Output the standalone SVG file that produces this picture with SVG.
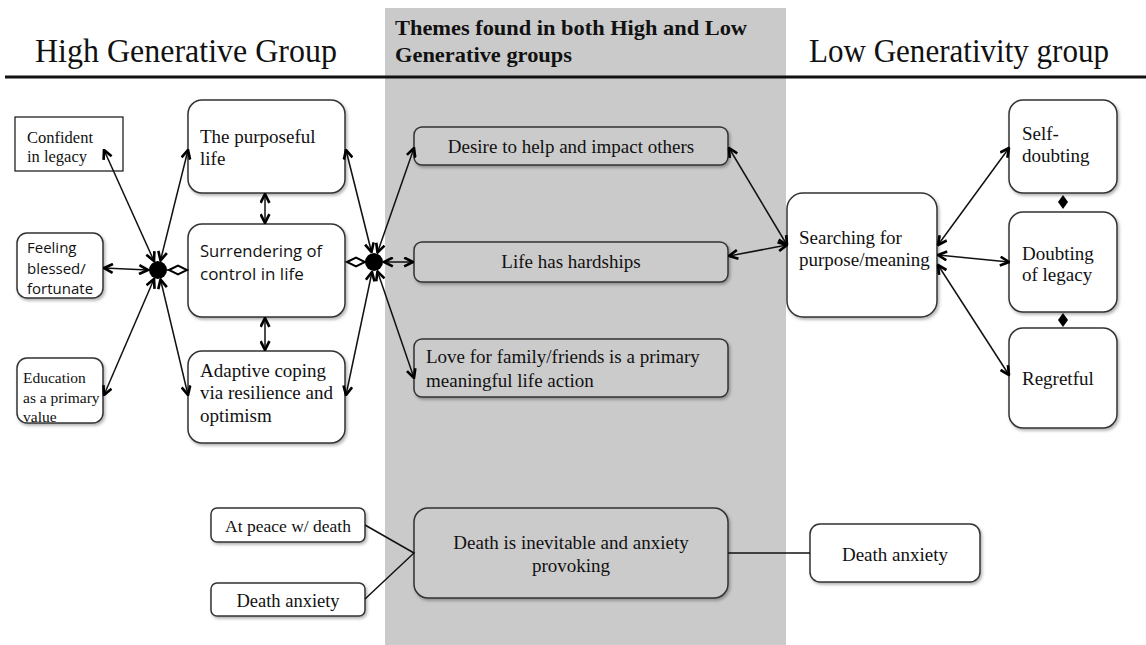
<svg xmlns="http://www.w3.org/2000/svg" width="1146" height="645" viewBox="0 0 1146 645">
<style>
.box{fill:#fff;stroke:#333;stroke-width:1.5;filter:url(#sh)}
.gbox{fill:#cbcbcb;stroke:#333;stroke-width:1.5;filter:url(#sh)}
.sq{fill:#fff;stroke:#222;stroke-width:1.3}
.t{font-family:"Liberation Serif","Times New Roman",serif;font-size:19px;fill:#111}
.ts{font-family:"Open Sans","Liberation Sans",sans-serif;font-size:17px;fill:#111}
.c{text-anchor:middle}
.ln{stroke:#111;stroke-width:1.5;fill:none}
.ar{stroke:#111;stroke-width:1.5;fill:none;marker-start:url(#arr);marker-end:url(#arr)}
.title{font-family:"Liberation Serif","Times New Roman",serif;font-size:34px;fill:#111}
.band{font-family:"Liberation Serif","Times New Roman",serif;font-size:22px;font-weight:bold;fill:#111}
</style>
<defs>
<filter id="sh" x="-10%" y="-10%" width="130%" height="130%">
<feDropShadow dx="1.5" dy="2" stdDeviation="1.5" flood-color="#000" flood-opacity="0.3"/>
</filter>
<marker id="arr" viewBox="0 0 10 10" refX="9" refY="5" markerWidth="11" markerHeight="11" markerUnits="userSpaceOnUse" orient="auto-start-reverse">
<path d="M1,1 L9,5 L1,9" fill="none" stroke="#000" stroke-width="2.4"/>
</marker>
</defs>
<rect x="0" y="0" width="1146" height="645" fill="#fff"/>
<rect id="band" x="385" y="8" width="401" height="637" fill="#cacaca"/>
<g id="headers">
<text class="title" x="35" y="62" textLength="302" lengthAdjust="spacingAndGlyphs">High Generative Group</text>
<text class="title" x="809" y="62" textLength="300" lengthAdjust="spacingAndGlyphs">Low Generativity group</text>
<text class="band" x="395" y="35" textLength="352" lengthAdjust="spacingAndGlyphs">Themes found in both High and Low</text>
<text class="band" x="395" y="62" textLength="177" lengthAdjust="spacingAndGlyphs">Generative groups</text>
<line x1="5" y1="77" x2="1146" y2="77" stroke="#111" stroke-width="3"/>
</g>

<g id="n-confident"><rect class="sq" x="15" y="117" width="108" height="54"/>
<text class="t" style="font-size:16.5px" x="27" y="143">Confident</text><text class="t" style="font-size:16.5px" x="27" y="162">in legacy</text></g>
<g id="n-feeling"><rect class="box" x="17" y="233" width="86" height="65" rx="10"/>
<text class="ts" style="font-size:15px" x="27" y="253">Feeling</text><text class="ts" style="font-size:15px" x="27" y="274">blessed/</text><text class="ts" style="font-size:15px" x="27" y="294">fortunate</text></g>
<g id="n-education"><rect class="box" x="17" y="358" width="86" height="65" rx="10"/>
<text class="t" style="font-size:15.5px" x="23" y="383">Education</text><text class="t" style="font-size:15.5px" x="23" y="403">as a primary</text><text class="t" style="font-size:15.5px" x="23" y="422">value</text></g>
<g id="n-purposeful"><rect class="box" x="188" y="100" width="157" height="93" rx="14"/>
<text class="t" x="200" y="143">The purposeful</text><text class="t" x="200" y="165">life</text></g>
<g id="n-surrender"><rect class="box" x="188" y="224" width="157" height="93" rx="14"/>
<text class="ts" x="200" y="257" textLength="122" lengthAdjust="spacingAndGlyphs">Surrendering of</text><text class="ts" x="200" y="280">control in life</text></g>
<g id="n-adaptive"><rect class="box" x="188" y="351" width="157" height="92" rx="14"/>
<text class="t" x="200" y="377">Adaptive coping</text><text class="t" x="200" y="399">via resilience and</text><text class="t" x="200" y="422">optimism</text></g>

<g id="n-desire"><rect class="gbox" x="414" y="127" width="314" height="38" rx="8"/>
<text class="t c" x="571" y="153">Desire to help and impact others</text></g>
<g id="n-hardships"><rect class="gbox" x="414" y="242" width="314" height="40" rx="8"/>
<text class="t c" x="571" y="268">Life has hardships</text></g>
<g id="n-love"><rect class="gbox" x="414" y="339" width="314" height="58" rx="8"/>
<text class="t" x="426" y="363">Love for family/friends is a primary</text><text class="t" x="426" y="387">meaningful life action</text></g>

<g id="n-searching"><rect class="box" x="787" y="193" width="150" height="124" rx="16"/>
<text class="t" x="799" y="244">Searching for</text><text class="t" x="799" y="266">purpose/meaning</text></g>
<g id="n-self"><rect class="box" x="1009" y="100" width="108" height="93" rx="14"/>
<text class="t" x="1022" y="140">Self-</text><text class="t" x="1022" y="162">doubting</text></g>
<g id="n-doubting"><rect class="box" x="1009" y="212" width="108" height="100" rx="14"/>
<text class="t" x="1022" y="260">Doubting</text><text class="t" x="1022" y="281">of legacy</text></g>
<g id="n-regretful"><rect class="box" x="1009" y="328" width="108" height="100" rx="14"/>
<text class="t" x="1022" y="385">Regretful</text></g>

<g id="n-peace"><rect class="box" x="211" y="508" width="154" height="34" rx="6"/>
<text class="t c" style="font-size:17.5px" x="288" y="532">At peace w/ death</text></g>
<g id="n-anxiety-left"><rect class="box" x="211" y="583" width="154" height="33" rx="6"/>
<text class="t c" style="font-size:18.5px" x="288" y="607">Death anxiety</text></g>
<g id="n-death"><rect class="gbox" x="414" y="508" width="314" height="90" rx="14"/>
<text class="t c" x="571" y="549">Death is inevitable and anxiety</text><text class="t c" x="571" y="572">provoking</text></g>
<g id="n-anxiety-right"><rect class="box" x="810" y="524" width="170" height="58" rx="10"/>
<text class="t c" x="895" y="561">Death anxiety</text></g>

<g id="connectors">
<circle cx="158" cy="270" r="9" fill="#000"/>
<line class="ar" x1="154" y1="261" x2="104" y2="150"/>
<line class="ar" x1="160.5" y1="260.5" x2="188" y2="150"/>
<line class="ar" x1="148" y1="270" x2="104" y2="268"/>
<line class="ar" x1="154" y1="279" x2="104" y2="395"/>
<line class="ar" x1="160.5" y1="279.5" x2="188" y2="395"/>
<line class="ln" x1="167" y1="270" x2="170" y2="270"/>
<polygon points="169,270 178,265.5 187,270 178,274.5" fill="#fff" stroke="#000" stroke-width="2"/>
<line class="ar" x1="265" y1="194" x2="265" y2="223"/>
<line class="ar" x1="265" y1="318" x2="265" y2="350"/>
<circle cx="374" cy="262" r="9" fill="#000"/>
<line class="ar" x1="371.5" y1="252" x2="346" y2="150"/>
<line class="ar" x1="372" y1="272" x2="346" y2="395"/>
<line class="ar" x1="377.5" y1="252.5" x2="414" y2="148"/>
<line class="ar" x1="377.5" y1="271.5" x2="414" y2="378"/>
<line class="ar" x1="384" y1="262" x2="413" y2="262"/>
<polygon points="347,262 356,257.5 365,262 356,266.5" fill="#fff" stroke="#000" stroke-width="2"/>
<line class="ar" x1="729" y1="148" x2="787" y2="245"/>
<line class="ar" x1="729" y1="256" x2="787" y2="245"/>
<line class="ar" x1="938" y1="245" x2="1009" y2="148"/>
<line class="ar" x1="938" y1="255" x2="1009" y2="262"/>
<line class="ar" x1="938" y1="265" x2="1009" y2="375"/>
<polygon points="1063,195 1068,202 1063,209 1058,202" fill="#000"/>
<polygon points="1063,313 1068,320 1063,327 1058,320" fill="#000"/>
<polyline class="ln" points="365,525 414,553 365,599"/>
<line class="ln" x1="728" y1="553" x2="810" y2="553"/>
</g>
</svg>
